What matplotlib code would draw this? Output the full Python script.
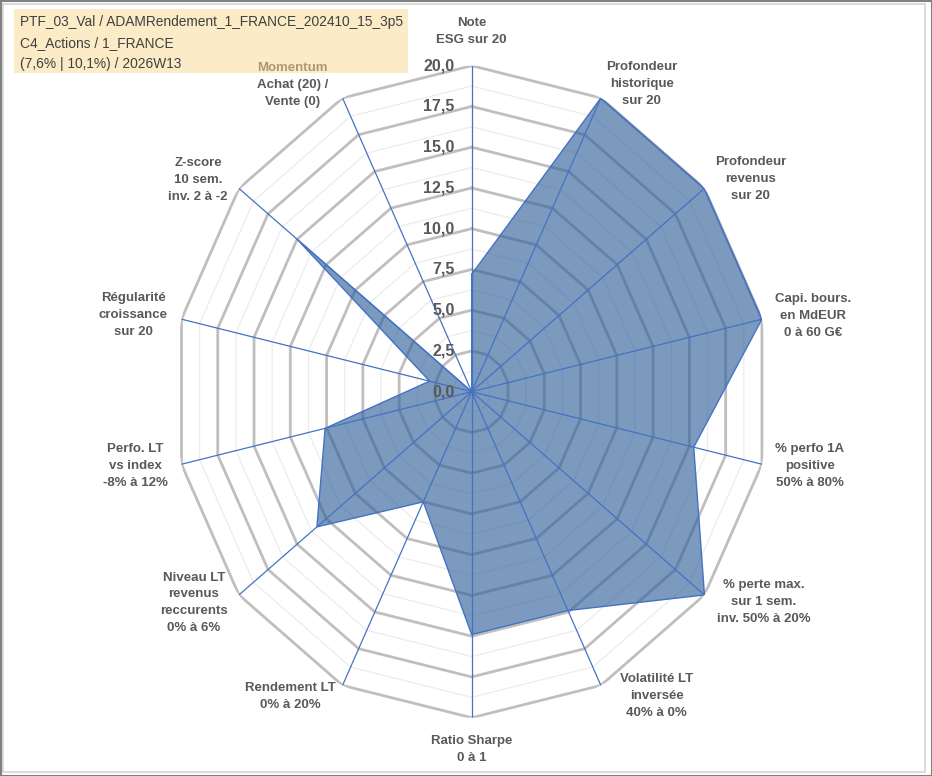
import numpy as np
import matplotlib
matplotlib.use("Agg")
import matplotlib.pyplot as plt
from matplotlib.patches import Rectangle
from matplotlib.transforms import offset_copy

# data
labels = [
    "Note\nESG sur 20",
    "Profondeur\nhistorique\nsur 20",
    "Profondeur\nrevenus\nsur 20",
    "Capi. bours.\nen MdEUR\n0 à 60 G€",
    "% perfo 1A\npositive\n50% à 80%",
    "% perte max.\nsur 1 sem.\ninv. 50% à 20%",
    "Volatilité LT\ninversée\n40% à 0%",
    "Ratio Sharpe\n0 à 1",
    "Rendement LT\n0% à 20%",
    "Niveau LT\nrevenus\nreccurents\n0% à 6%",
    "Perfo. LT\nvs index\n-8% à 12%",
    "Régularité\ncroissance\nsur 20",
    "Z-score\n10 sem.\ninv. 2 à -2",
    "Momentum\nAchat (20) /\nVente (0)",
]
values = [7.2, 20.0, 20.0, 20.0, 15.3, 20.0, 14.9, 14.9, 7.5, 13.3, 10.1, 2.9, 15.0, 0.0]
rticks = [0.0, 2.5, 5.0, 7.5, 10.0, 12.5, 15.0, 17.5, 20.0]
title_lines = [
    "PTF_03_Val / ADAMRendement_1_FRANCE_202410_15_3p5",
    "C4_Actions / 1_FRANCE",
    "(7,6% | 10,1%) / 2026W13",
]

# label offsets from each outer vertex, in pixels
label_off = [(0, 34), (41, 14), (46, 9), (51, 3), (48, -2), (59, -7), (56, -11),
             (0, -32), (-52, -11), (-45, -8), (-46, -2), (-48, 4), (-41, 8), (-50, 13)]

W, H = 932, 776
fig = plt.figure(figsize=(W / 100, H / 100), dpi=100)
fig.patch.set_facecolor("white")

cx, cy, rx, ry = 471.7, 391.7, 297.7, 326.0
ax = fig.add_axes([(cx - rx) / W, (H - cy - ry) / H, 2 * rx / W, 2 * ry / H], projection="polar")
ax.set_aspect("auto")
ax.set_theta_zero_location("N")
ax.set_theta_direction(-1)
ax.set_ylim(0, 20)
ax.grid(False)
ax.set_xticks([])
ax.set_yticks([])
ax.spines["polar"].set_visible(False)
ax.patch.set_visible(False)

n = len(labels)
ang = np.linspace(0, 2 * np.pi, n, endpoint=False)
ang_c = np.append(ang, ang[0])

# polygon grid
for k in range(1, 17):
    r = k * 1.25
    if k % 2 == 0:
        ax.plot(ang_c, [r] * (n + 1), color="#BFBFBF", lw=2.0, zorder=1)
    else:
        ax.plot(ang_c, [r] * (n + 1), color="#ECECEC", lw=0.9, zorder=1)

vals_c = values + values[:1]
ax.fill(ang_c, vals_c, facecolor="#2E5F99", alpha=0.63, edgecolor="none", zorder=2)
ax.plot(ang_c, vals_c, color="#4472C4", lw=1.0, zorder=4)

# spokes
for a in ang:
    ax.plot([a, a], [0, 20], color="#4472C4", lw=0.9, zorder=3)

# radial tick labels
tr = offset_copy(ax.transData, fig=fig, x=-17, y=0, units="dots")
for t in rticks:
    ax.text(0, t, f"{t:.1f}".replace(".", ","), transform=tr, ha="right", va="center",
            fontsize=11.5, fontweight="bold", color="#595959", family="Liberation Sans",
            zorder=5)

# category labels
for a, lab, off in zip(ang, labels, label_off):
    ax.annotate(lab, xy=(a, 20), xytext=off, textcoords="offset pixels",
                ha="center", va="center", multialignment="center", linespacing=1.55,
                fontsize=9.5, fontweight="bold", color="#595959",
                family="Liberation Sans", annotation_clip=False)

# title box, semi transparent over the plot area
fig.patches.append(Rectangle((14 / W, 1 - 73 / H), 394 / W, 64 / H, transform=fig.transFigure,
                             facecolor="#F9D890", alpha=0.5, edgecolor="none", zorder=1))
for i, line in enumerate(title_lines):
    fig.text(20 / W, 1 - (22 + 21 * i) / H, line, ha="left", va="center",
             fontsize=9.9, color="#404040", family="Liberation Sans", zorder=3)

# chart border
fig.patches.append(Rectangle((3 / W, 4 / H), 922 / W, 768 / H, transform=fig.transFigure,
                             facecolor="none", edgecolor="#D4D4D4", lw=1.2, zorder=2))
fig.patches.append(Rectangle((0.5 / W, 0.5 / H), 931 / W, 775 / H, transform=fig.transFigure,
                             facecolor="none", edgecolor="#808080", lw=1.5, zorder=2))

fig.savefig("out.png", dpi=100)
